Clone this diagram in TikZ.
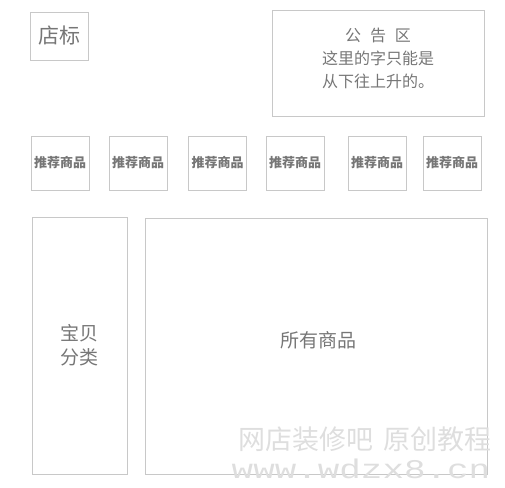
\documentclass[tikz,border=0pt]{standalone}
\usepackage{fontspec}
\usepackage{xcolor}
\newfontfamily\cjk{Noto Sans CJK SC}
\newfontfamily\markmono{Liberation Mono}
\definecolor{framegray}{HTML}{C8C8C8}
\definecolor{textgray}{HTML}{767676}
\definecolor{markgray}{HTML}{DEDEDE}

\begin{document}
\begin{tikzpicture}[x=1pt,y=-1pt,
        box/.style={draw=framegray,line width=0.9pt,inner sep=0pt,text=textgray,align=center},
        label/.style={text=textgray,inner sep=0pt,align=center,font=\cjk}]
        \useasboundingbox (0,0) rectangle (505,487);

        % shop logo and notice board
        \node[box,minimum width=58,minimum height=48,font=\cjk\fontsize{21}{24}\selectfont]
            (logo) at (59,36) {店标};
        \node[box,minimum width=212,minimum height=106] (notice) at (378,63) {};
        \node[label,font=\cjk\fontsize{16}{23}\selectfont] (noticetext) at (378,58)
            {公\hspace{0.55em}告\hspace{0.55em}区\\这里的字只能是\\从下往上升的。};

        % the row of recommended items
        \foreach \x/\n in {60/1,138/2,217.5/3,295/4,377/5,452/6}
                \node[box,minimum width=58,minimum height=54,font=\cjk\bfseries\fontsize{13}{15}\selectfont]
                    (rec\n) at (\x,163) {推荐商品};

        % categories and all items
        \node[box,minimum width=95,minimum height=257,font=\cjk\fontsize{19}{24}\selectfont]
            (category) at (79.5,345.5) {宝贝\\分类};
        \node[box,minimum width=342,minimum height=256] (allitems) at (316,346) {};
        \node[label,font=\cjk\fontsize{19}{24}\selectfont] (alltext) at (318,340) {所有商品};

        % watermark
        \node[label,text=markgray,font=\cjk\fontsize{27}{28}\selectfont] (markcn) at (365,439)
            {网店装修吧\hspace{0.4em}原创教程};
        \node[label,text=markgray,font=\markmono\fontsize{27}{28}\selectfont] (markurl) at (361,469)
            {\scalebox{1.33}[1]{www.wdzx8.cn}};
\end{tikzpicture}
\end{document}
